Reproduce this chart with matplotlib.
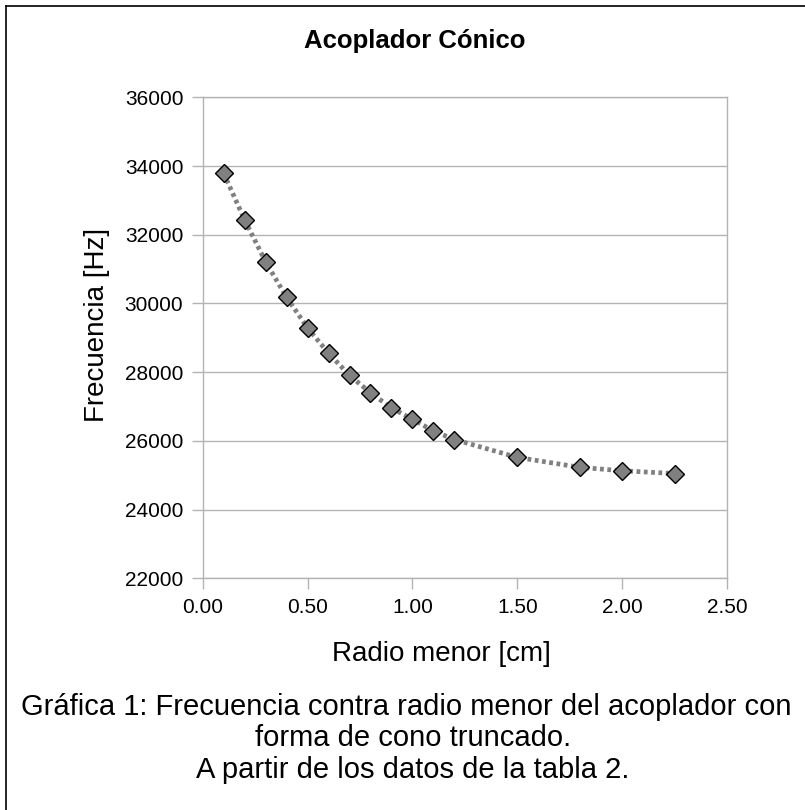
import matplotlib.pyplot as plt
from matplotlib.lines import Line2D

# radio menor del acoplador [cm] y frecuencia medida [Hz]
radio = [0.1, 0.2, 0.3, 0.4, 0.5, 0.6, 0.7, 0.8, 0.9, 1.0, 1.1, 1.2,
         1.5, 1.8, 2.0, 2.25]
frecuencia = [33790, 32430, 31210, 30180, 29290, 28550, 27910, 27400,
              26960, 26630, 26290, 26040, 25520, 25230, 25130, 25050]

x_ticks = [0.0, 0.5, 1.0, 1.5, 2.0, 2.5]
y_ticks = [22000, 24000, 26000, 28000, 30000, 32000, 34000, 36000]

plt.rcParams['font.family'] = ['Liberation Sans', 'DejaVu Sans']

fig = plt.figure(figsize=(8.05, 8.10), dpi=100)
ax = fig.add_axes([0.2518, 0.2860, 0.6513, 0.5939])

gris = '#b3b3b3'
ax.plot(radio, frecuencia, color='#808080', lw=3.4,
        linestyle=(0, (0.8, 0.75)), dash_capstyle='butt',
        marker='D', markersize=9.5, markerfacecolor='#808080',
        markeredgecolor='black', markeredgewidth=1.0, zorder=3)

ax.set_xlim(0, 2.5)
ax.set_ylim(22000, 36000)
ax.set_xticks(x_ticks)
ax.set_xticklabels(['%.2f' % v for v in x_ticks])
ax.set_yticks(y_ticks)
ax.yaxis.grid(True, color=gris, lw=1.0)
ax.set_axisbelow(True)
for s in ax.spines.values():
    s.set_color(gris)
    s.set_linewidth(1.0)
ax.tick_params(axis='both', direction='out', length=8, width=1.0,
               color=gris, labelsize=15, pad=6)

# textos de la grafica
fig.text(0.5150, 0.9490, 'Acoplador Cónico', ha='center', va='center',
         fontsize=18.5, fontweight='bold')
fig.text(0.5478, 0.1926, 'Radio menor [cm]', ha='center', va='center',
         fontsize=20)
fig.text(0.1205, 0.5988, 'Frecuencia [Hz]', ha='center', va='center',
         rotation=90, fontsize=20)

fig.text(0.5050, 0.1275,
         'Gráfica 1: Frecuencia contra radio menor del acoplador con',
         ha='center', va='center', fontsize=21)
fig.text(0.5130, 0.0889, 'forma de cono truncado.', ha='center',
         va='center', fontsize=21)
fig.text(0.5130, 0.0494, 'A partir de los datos de la tabla 2.',
         ha='center', va='center', fontsize=21)

# marco
fig.add_artist(Line2D([0.0075, 0.0075], [0.0, 0.9920], color='black',
                      lw=1.2, transform=fig.transFigure))
fig.add_artist(Line2D([0.0075, 1.0], [0.9920, 0.9920], color='black',
                      lw=1.2, transform=fig.transFigure))

fig.savefig('out.png', dpi=100)
